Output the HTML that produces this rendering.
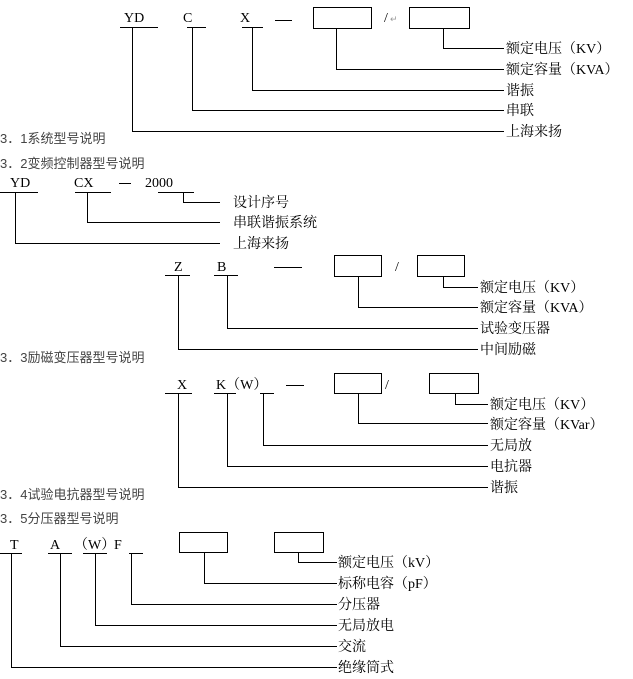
<!DOCTYPE html>
<html><head><meta charset="utf-8"><style>
html,body{margin:0;padding:0;background:#fff;}
svg{display:block}
.l{font-family:"Liberation Serif","Noto Serif CJK SC",serif;font-size:14px;fill:#000}
.c{font-family:"Liberation Serif","Noto Serif CJK SC",serif;font-size:14px;fill:#000}
.h{font-family:"Liberation Sans","Noto Sans CJK SC",sans-serif;font-size:13px;fill:#444}
.m{fill:#999;font-size:9px;font-family:"Liberation Sans",sans-serif}
</style></head><body>
<svg width="633" height="679" viewBox="0 0 633 679" xmlns="http://www.w3.org/2000/svg" fill="none" stroke="#000" stroke-width="1">
<!-- Section 1 -->
<g>
<text class="l" x="124" y="22" stroke="none">YD</text>
<text class="l" x="183" y="22" stroke="none">C</text>
<text class="l" x="240" y="22" stroke="none">X</text>
<line x1="120" y1="27.5" x2="158" y2="27.5"/>
<line x1="187" y1="27.5" x2="206" y2="27.5"/>
<line x1="242" y1="27.5" x2="263" y2="27.5"/>
<line x1="275" y1="20.5" x2="292" y2="20.5"/>
<rect x="313.5" y="7.5" width="58" height="21"/>
<text class="l" x="384" y="22" stroke="none">/</text><text class="m" x="390" y="22" stroke="none">↵</text>
<rect x="409.5" y="7.5" width="60" height="21"/>
<polyline points="443.5,28 443.5,48.5 504,48.5"/>
<polyline points="336.5,28 336.5,69.5 504,69.5"/>
<polyline points="252.5,28 252.5,90.5 504,90.5"/>
<polyline points="192.5,28 192.5,110.5 504,110.5"/>
<polyline points="132.5,28 132.5,131.5 504,131.5"/>
<text class="c" x="506" y="53" stroke="none">额定电压（KV）</text>
<text class="c" x="506" y="74" stroke="none">额定容量（KVA）</text>
<text class="c" x="506" y="95" stroke="none">谐振</text>
<text class="c" x="506" y="115" stroke="none">串联</text>
<text class="c" x="506" y="136" stroke="none">上海来扬</text>
<text class="h" x="0" y="143" stroke="none">3．1系统型号说明</text>
<text class="h" x="0" y="168" stroke="none">3．2变频控制器型号说明</text>
</g>
<!-- Section 2 -->
<g>
<text class="l" x="10" y="187" stroke="none">YD</text>
<text class="l" x="74" y="187" stroke="none">CX</text>
<text class="l" x="145" y="187" stroke="none">2000</text>
<line x1="0" y1="192.5" x2="38" y2="192.5"/>
<line x1="75" y1="192.5" x2="111" y2="192.5"/>
<line x1="119" y1="183.5" x2="131" y2="183.5"/>
<line x1="158" y1="192.5" x2="194" y2="192.5"/>
<polyline points="183.5,193 183.5,202.5 220,202.5"/>
<polyline points="87.5,193 87.5,222.5 220,222.5"/>
<polyline points="15.5,193 15.5,243.5 220,243.5"/>
<text class="c" x="233" y="207" stroke="none">设计序号</text>
<text class="c" x="233" y="227" stroke="none">串联谐振系统</text>
<text class="c" x="233" y="248" stroke="none">上海来扬</text>
</g>
<!-- Section 3 -->
<g>
<text class="l" x="174" y="271" stroke="none">Z</text>
<text class="l" x="217" y="271" stroke="none">B</text>
<line x1="165" y1="275.5" x2="190" y2="275.5"/>
<line x1="214" y1="275.5" x2="238" y2="275.5"/>
<line x1="274" y1="267.5" x2="302" y2="267.5"/>
<rect x="334.5" y="255.5" width="47" height="21"/>
<text class="l" x="395" y="271" stroke="none">/</text>
<rect x="417.5" y="255.5" width="47" height="21"/>
<polyline points="443.5,277 443.5,287.5 478,287.5"/>
<polyline points="358.5,277 358.5,307.5 478,307.5"/>
<polyline points="227.5,276 227.5,328.5 478,328.5"/>
<polyline points="178.5,276 178.5,349.5 478,349.5"/>
<text class="c" x="480" y="292" stroke="none">额定电压（KV）</text>
<text class="c" x="480" y="312" stroke="none">额定容量（KVA）</text>
<text class="c" x="480" y="333" stroke="none">试验变压器</text>
<text class="c" x="480" y="354" stroke="none">中间励磁</text>
<text class="h" x="0" y="362" stroke="none">3．3励磁变压器型号说明</text>
</g>
<!-- Section 4 -->
<g>
<text class="l" x="177" y="389" stroke="none">X</text>
<text class="l" x="216" y="389" stroke="none">K（W）</text>
<line x1="165" y1="393.5" x2="192" y2="393.5"/>
<line x1="214" y1="393.5" x2="236" y2="393.5"/>
<line x1="260" y1="393.5" x2="274" y2="393.5"/>
<line x1="286" y1="385.5" x2="304" y2="385.5"/>
<rect x="334.5" y="373.5" width="47" height="20"/>
<text class="l" x="385" y="389" stroke="none">/</text>
<rect x="429.5" y="373.5" width="49" height="20"/>
<polyline points="455.5,394 455.5,404.5 488,404.5"/>
<polyline points="358.5,394 358.5,423.5 488,423.5"/>
<polyline points="263.5,394 263.5,445.5 488,445.5"/>
<polyline points="227.5,394 227.5,466.5 488,466.5"/>
<polyline points="178.5,394 178.5,487.5 488,487.5"/>
<text class="c" x="490" y="409" stroke="none">额定电压（KV）</text>
<text class="c" x="490" y="429" stroke="none">额定容量（KVar）</text>
<text class="c" x="490" y="450" stroke="none">无局放</text>
<text class="c" x="490" y="471" stroke="none">电抗器</text>
<text class="c" x="490" y="492" stroke="none">谐振</text>
<text class="h" x="0" y="499" stroke="none">3．4试验电抗器型号说明</text>
</g>
<!-- Section 5 -->
<g>
<text class="h" x="0" y="523" stroke="none">3．5分压器型号说明</text>
<text class="l" x="10" y="549" stroke="none">T</text>
<text class="l" x="50" y="549" stroke="none">A</text>
<text class="l" x="74" y="549" stroke="none">（W）</text>
<text class="l" x="114" y="549" stroke="none">F</text>
<line x1="0" y1="553.5" x2="22" y2="553.5"/>
<line x1="48" y1="553.5" x2="72" y2="553.5"/>
<line x1="83" y1="553.5" x2="107" y2="553.5"/>
<line x1="129" y1="553.5" x2="143" y2="553.5"/>
<rect x="179.5" y="532.5" width="48" height="20"/>
<rect x="274.5" y="532.5" width="49" height="20"/>
<polyline points="298.5,553 298.5,562.5 337,562.5"/>
<polyline points="204.5,553 204.5,583.5 337,583.5"/>
<polyline points="131.5,554 131.5,604.5 337,604.5"/>
<polyline points="95.5,554 95.5,625.5 337,625.5"/>
<polyline points="60.5,554 60.5,646.5 337,646.5"/>
<polyline points="11.5,554 11.5,667.5 337,667.5"/>
<text class="c" x="338" y="567" stroke="none">额定电压（kV）</text>
<text class="c" x="338" y="588" stroke="none">标称电容（pF）</text>
<text class="c" x="338" y="609" stroke="none">分压器</text>
<text class="c" x="338" y="630" stroke="none">无局放电</text>
<text class="c" x="338" y="651" stroke="none">交流</text>
<text class="c" x="338" y="672" stroke="none">绝缘筒式</text>
</g>
</svg>
</body></html>
